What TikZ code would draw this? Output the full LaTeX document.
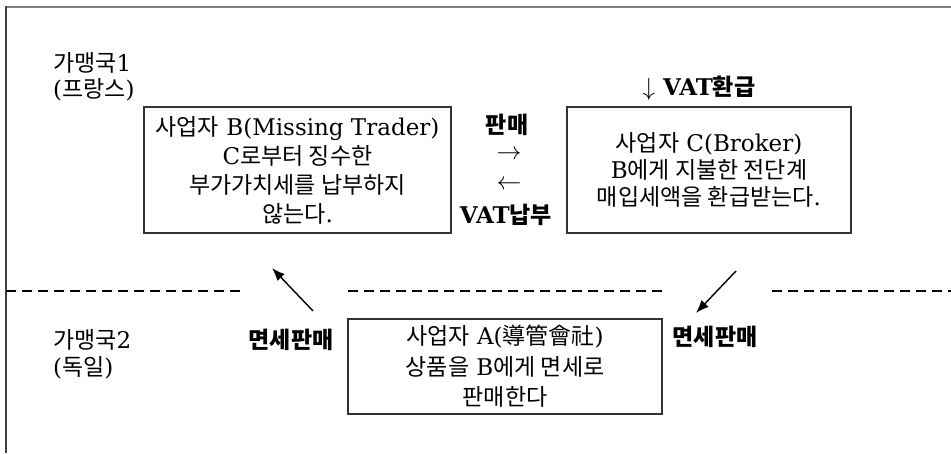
\documentclass[tikz,border=0pt]{standalone}
\usepackage{fontspec}
\setmainfont{DejaVu Serif}
\newfontfamily\krf{Noto Sans CJK KR}
\newcommand\hk[1]{{\krf #1}}
\usetikzlibrary{arrows.meta}
\begin{document}
\begin{tikzpicture}[x=1pt,y=-1pt,
  every node/.style={inner sep=0pt, font=\fontsize{23}{29}\selectfont},
  box/.style={draw=black!80, line width=1.2pt, align=center},
  lbl/.style={font=\fontsize{23}{29}\selectfont\bfseries},
  symarrow/.style={text height=6pt, text depth=0pt},
  arr/.style={line width=1.4pt, -{Latex[length=13pt,width=10pt]}},
  dashline/.style={line width=2pt, dash pattern=on 10pt off 6pt},
  frametop/.style={draw=black!50, line width=2pt},
  frameleft/.style={draw=black!75, line width=2pt}]
\useasboundingbox (0,0) rectangle (951,453);
% frame
\draw[frametop] (951,7) -- (5,7);
\draw[frameleft] (6,6) -- (6,453);
% country labels
\node[anchor=west] (g1) at (53,63) {\hk{가맹국}1};
\node[anchor=west] (g1b) at (53,90) {(\hk{프랑스})};
\node[anchor=west] (g2) at (53,340) {\hk{가맹국}2};
\node[anchor=west] (g2b) at (53,368) {(\hk{독일})};
% boxes
\node[box, minimum width=307, minimum height=126] (B) at (297.5,170)
  {\hk{사업자} B(Missing Trader)\\ C\hk{로부터 징수한}\\ \hk{부가가치세를 납부하지}\\ \hk{않는다}.};
\node[box, minimum width=284, minimum height=126,
  font=\fontsize{23}{27}\selectfont] (C) at (709,170)
  {\hk{사업자} C(Broker)\\ B\hk{에게 지불한 전단계}\\ \hk{매입세액을 환급받는다}.};
\node[box, minimum width=314, minimum height=95,
  font=\fontsize{23}{30.5}\selectfont] (A) at (505,366.5)
  {\hk{사업자} A(\hk{導管會社})\\ \hk{상품을} B\hk{에게 면세로}\\ \hk{판매한다}};
% middle labels
\node[lbl] (sale) at (507,125) {\hk{\bfseries 판매}};
\node[symarrow] (ra) at (509,156) {$\rightarrow$};
\node[symarrow] (la) at (509,186) {$\leftarrow$};
\node[lbl] (vatpay) at (506,215) {VAT\hk{\bfseries 납부}};
\node[lbl] (vatref) at (699,88) {$\downarrow$ VAT\hk{\bfseries 환급}};
% dashed border
\coordinate (d1a) at (6,291); \coordinate (d1b) at (240,291);
\coordinate (d2a) at (348,291); \coordinate (d2b) at (664,291);
\coordinate (d3a) at (772,291); \coordinate (d3b) at (951,291);
\draw[dashline] (d1a) -- (d1b);
\draw[dashline] (d2a) -- (d2b);
\draw[dashline] (d3a) -- (d3b);
% duty-free arrows
\coordinate (p1s) at (313,311); \coordinate (p1e) at (272,268);
\coordinate (p2s) at (736,271); \coordinate (p2e) at (696,313);
\draw[arr] (p1s) -- (p1e);
\draw[arr] (p2s) -- (p2e);
\node[lbl] (df1) at (291,340) {\hk{\bfseries 면세판매}};
\node[lbl] (df2) at (715,337) {\hk{\bfseries 면세판매}};
\end{tikzpicture}
\end{document}
